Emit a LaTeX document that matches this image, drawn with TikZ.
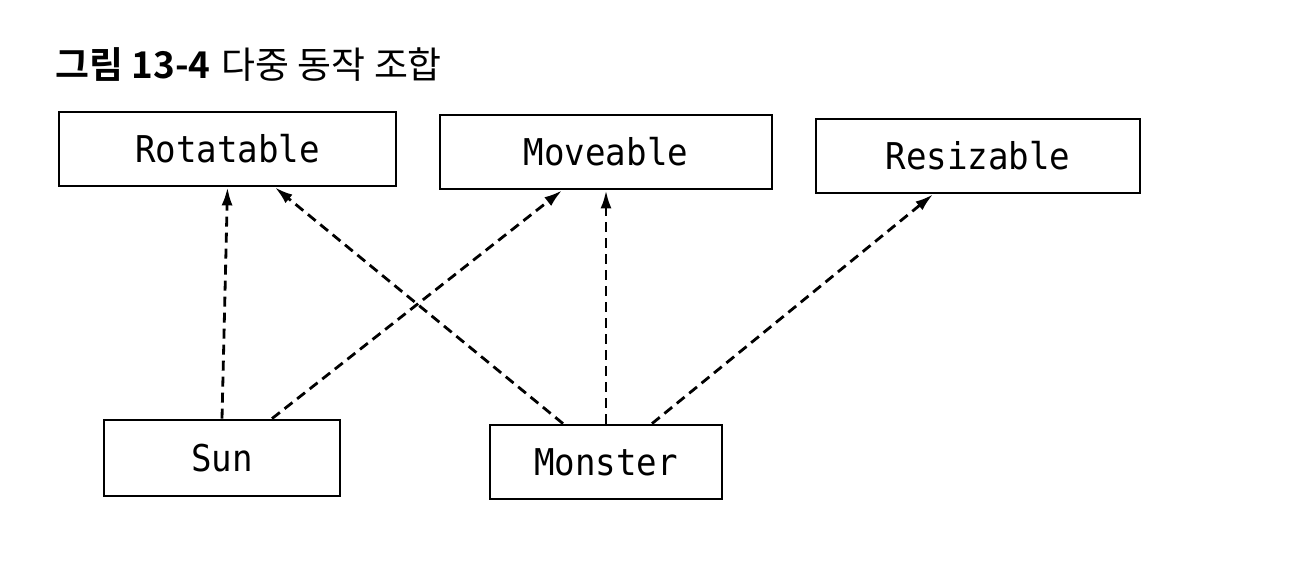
\documentclass[tikz,border=0pt]{standalone}
\usepackage{fontspec}
\setmonofont[FakeStretch=0.925]{DejaVu Sans Mono}
\newfontfamily\kofont{Noto Sans CJK KR}
\newfontfamily\kobold{Noto Sans CJK KR Bold}
\usetikzlibrary{arrows.meta,positioning}
\tikzset{
  cls/.style={draw,line width=1.6pt,minimum height=1.48cm,inner sep=0pt,
    font=\ttfamily\fontsize{21}{24}\selectfont},
  impl/.style={line width=1.6pt,dash pattern=on 0.2cm off 0.12cm,
    -{Latex[length=0.36cm,width=0.22cm]}},
}
\begin{document}
\begin{tikzpicture}[x=0.02cm,y=-0.02cm]
  \useasboundingbox (0,0) rectangle (1295,561);
  % title
  \node[anchor=base west,inner sep=0pt,font=\fontsize{21}{25}\selectfont] (title) at (55,78)
    {{\kobold 그림 13-4} {\kofont 다중 동작 조합}};
  % interfaces
  \node[cls,minimum width=6.74cm] (rot) at (227.5,149) {Rotatable};
  \node[cls,minimum width=6.64cm] (mov) at (606,152) {Moveable};
  \node[cls,minimum width=6.48cm] (res) at (978,156) {Resizable};
  % classes
  \node[cls,minimum width=4.72cm,minimum height=1.52cm] (sun) at (222,458) {Sun};
  \node[cls,minimum width=4.64cm] (mon) at (606,462) {Monster};
  % implements
  \draw[impl] (sun.north) -- (rot.south);
  \draw[impl] ([xshift=1cm]sun.north) -- ([xshift=-0.88cm]mov.south);
  \draw[impl] ([xshift=-0.86cm]mon.north) -- ([xshift=0.95cm]rot.south);
  \draw[impl] (mon.north) -- (mov.south);
  \draw[impl] ([xshift=0.92cm]mon.north) -- ([xshift=-0.9cm]res.south);
\end{tikzpicture}
\end{document}
